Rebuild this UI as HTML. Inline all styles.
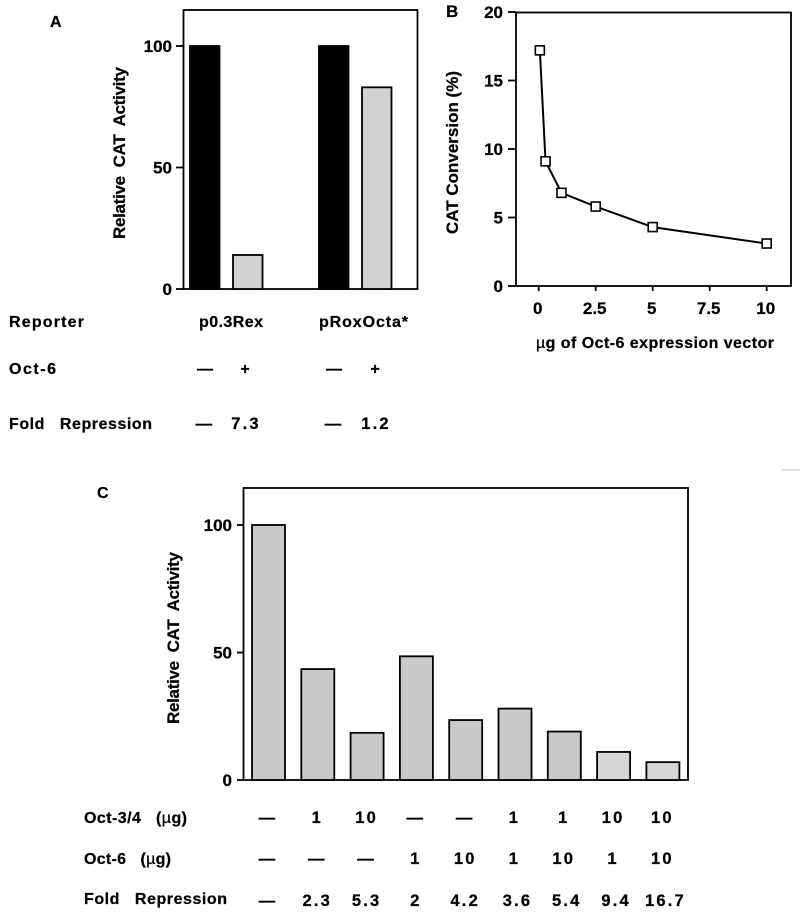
<!DOCTYPE html>
<html lang="en">
<head>
<meta charset="utf-8">
<title>Oct-6 repression of CAT activity</title>
<style>
html,body{margin:0;padding:0;background:#fff;}
body{width:800px;height:915px;overflow:hidden;}
svg{display:block;}
text{font-family:"Liberation Sans",sans-serif;font-weight:bold;font-size:16px;fill:#000;stroke:#000;stroke-width:.25px;white-space:pre;}
.wide{letter-spacing:.6px;}
.nums{letter-spacing:2.2px;text-anchor:middle;font-size:16.5px;}
.tick{font-size:17px;text-anchor:end;}
.mid{text-anchor:middle;}
</style>
</head>
<body>
<svg id="fig" xmlns="http://www.w3.org/2000/svg" width="800" height="915" viewBox="0 0 800 915">
  <rect x="0" y="0" width="800" height="915" fill="#fff"/>
  <g id="blurred" style="filter:blur(.35px)">
    <text x="50" y="27" style="font-size:16px">A</text>
    <text x="446" y="17" style="font-size:17px">B</text>
    <text x="97" y="498" style="font-size:16px">C</text>

    <g id="panelA"></g>
    <text transform="translate(125,239) rotate(-90)" textLength="172" lengthAdjust="spacing" style="font-size:17px">Relative  CAT  Activity</text>
    <text x="9" y="327" textLength="75" lengthAdjust="spacing">Reporter</text>
    <text x="199" y="327" textLength="64" lengthAdjust="spacing">p0.3Rex</text>
    <text x="319" y="327" textLength="89" lengthAdjust="spacing">pRoxOcta*</text>
    <text x="9" y="374" textLength="47" lengthAdjust="spacing">Oct-6</text>
    <text x="9" y="429" textLength="143" lengthAdjust="spacing">Fold   Repression</text>
    <g id="panelARows"></g>

    <g id="panelB"></g>
    <text transform="translate(458,234) rotate(-90)" textLength="163" lengthAdjust="spacing" style="font-size:17px">CAT Conversion (%)</text>
    <text x="536" y="348" textLength="238" lengthAdjust="spacing" style="font-size:16px"><tspan style="font-weight:normal">µ</tspan>g of Oct-6 expression vector</text>

    <g id="panelC"></g>
    <text transform="translate(179,724) rotate(-90)" textLength="172" lengthAdjust="spacing" style="font-size:17px">Relative  CAT  Activity</text>
    <text x="84" y="823" textLength="103" lengthAdjust="spacing">Oct-3/4   (<tspan style="font-weight:normal">µ</tspan>g)</text>
    <text x="84" y="864" textLength="87" lengthAdjust="spacing">Oct-6   (<tspan style="font-weight:normal">µ</tspan>g)</text>
    <text x="84" y="904" textLength="143" lengthAdjust="spacing">Fold   Repression</text>
    <g id="panelCRows"></g>

    <line x1="782" y1="470" x2="800" y2="470" stroke="#bbb" stroke-width="1"/>
  </g>
</svg>
<script>
// Panel A data
const aCategories = ['p0.3Rex -', 'p0.3Rex +', 'pRoxOcta* -', 'pRoxOcta* +'];
const aValues = [100, 14, 100, 83];
const aTicks = [0, 50, 100];
const aOct6 = ['—', '+', '—', '+'];
const aFold = ['—', '7.3', '—', '1.2'];

// Panel B data
const bDoses = [0.05, 0.3, 1, 2.5, 5, 10];
const bConversion = [17.2, 9.1, 6.8, 5.8, 4.3, 3.1];
const bYTicks = [0, 5, 10, 15, 20];
const bXTicks = [0, 2.5, 5, 7.5, 10];

// Panel C data
const cCategories = ['s1', 's2', 's3', 's4', 's5', 's6', 's7', 's8', 's9'];
const cValues = [100, 43.5, 18.5, 48.5, 23.5, 28, 19, 11, 7];
const cTicks = [0, 50, 100];
const cOct34 = ['—', '1', '10', '—', '—', '1', '1', '10', '10'];
const cOct6 = ['—', '—', '—', '1', '10', '1', '10', '1', '10'];
const cFold = ['—', '2.3', '5.3', '2', '4.2', '3.6', '5.4', '9.4', '16.7'];

const NS = 'http://www.w3.org/2000/svg';
function node(parent, tag, attrs, txt) {
  const el = document.createElementNS(NS, tag);
  for (const k in attrs) el.setAttribute(k, attrs[k]);
  if (txt !== undefined) el.textContent = txt;
  parent.appendChild(el);
  return el;
}

// Axis functions
const yA = v => 289 - v * 2.43;
const xA = i => 190 + Math.floor(i / 2) * 129 + (i % 2) * 43;
const yB = v => 286 - v * 13.7;
const xB = v => 538.7 + v * 22.8;
const yC = v => 780 - v * 2.55;
const xC = i => 252 + i * 49.3;

// Panel A
const gA = document.getElementById('panelA');
const frameA = node(gA, 'rect', {x: 183.5, y: 10, width: 234, height: 279, fill: 'none', stroke: '#000', 'stroke-width': 1.8});


aValues.forEach((v, i) => {
  const gray = i % 2 === 1;
  const bar = node(gA, 'rect', {x: xA(i), y: yA(v), width: 29.5, height: 289 - yA(v), fill: gray ? '#d2d2d2' : '#000', stroke: '#000', 'stroke-width': 1.8});
  
  
  node(bar, 'title', {}, aCategories[i]);
});
aTicks.forEach(t => {
  const tick = node(gA, 'line', {x1: 176, x2: 184, y1: yA(t), y2: yA(t), stroke: '#000', 'stroke-width': 1.8});
  
  
  const lab = node(gA, 'text', {x: 172, y: yA(t) + 6, class: 'tick'}, String(t));
  
  
});
const rowsA = document.getElementById('panelARows');
aOct6.forEach((s, i) => {
  const cx = [205, 245, 334, 375][i];
  const t = node(rowsA, 'text', {x: cx, y: 374, class: 'mid'}, s);
  
  
});
aFold.forEach((s, i) => {
  const cx = [205, 246, 334, 376][i];
  const t = node(rowsA, 'text', {x: cx, y: 429, class: 'nums'}, s);
  
  
});

// Panel B
const gB = document.getElementById('panelB');
const frameB = node(gB, 'rect', {x: 516, y: 12.5, width: 275, height: 273.5, fill: 'none', stroke: '#000', 'stroke-width': 1.8});


bYTicks.forEach(t => {
  const tick = node(gB, 'line', {x1: 508, x2: 516, y1: yB(t), y2: yB(t), stroke: '#000', 'stroke-width': 1.8});
  
  
  const lab = node(gB, 'text', {x: 503, y: yB(t) + 6, class: 'tick'}, String(t));
  
  
});
bXTicks.forEach(t => {
  const tick = node(gB, 'line', {x1: xB(t), x2: xB(t), y1: 286, y2: 291, stroke: '#000', 'stroke-width': 1.8});
  
  
  const lab = node(gB, 'text', {x: xB(t) - 1, y: 314, class: 'mid', style: 'font-size:17px'}, String(t));
  
  
});
const linePts = bDoses.map((d, i) => xB(d) + ',' + yB(bConversion[i])).join(' ');
const line = node(gB, 'polyline', {points: linePts, fill: 'none', stroke: '#000', 'stroke-width': 2});


bDoses.forEach((d, i) => {
  const m = node(gB, 'rect', {x: xB(d) - 4.5, y: yB(bConversion[i]) - 4.5, width: 9, height: 9, fill: '#fff', stroke: '#000', 'stroke-width': 1.6});
  
  
});

// Panel C
const gC = document.getElementById('panelC');
const frameC = node(gC, 'rect', {x: 243.5, y: 488, width: 444.5, height: 292, fill: 'none', stroke: '#000', 'stroke-width': 1.8});


cValues.forEach((v, i) => {
  const bar = node(gC, 'rect', {x: xC(i), y: yC(v), width: 33, height: 780 - yC(v), fill: i > 6 ? '#d6d6d6' : '#c9c9c9', stroke: '#000', 'stroke-width': 1.8});
  
  
  node(bar, 'title', {}, cCategories[i]);
});
cTicks.forEach(t => {
  const tick = node(gC, 'line', {x1: 237, x2: 244, y1: yC(t), y2: yC(t), stroke: '#000', 'stroke-width': 1.8});
  
  
  const lab = node(gC, 'text', {x: 232, y: yC(t) + 6, class: 'tick'}, String(t));
  
  
});
const rowsC = document.getElementById('panelCRows');
function colC(i) { return xC(i) + 16; }
cOct34.forEach((s, i) => {
  const t = node(rowsC, 'text', {x: colC(i), y: 823, class: 'nums'}, s);
  
  
});
cOct6.forEach((s, i) => {
  const t = node(rowsC, 'text', {x: colC(i), y: 864, class: 'nums'}, s);
  
  
});
cFold.forEach((s, i) => {
  const t = node(rowsC, 'text', {x: colC(i) + (i > 4 ? 3 : 0), y: 906, class: 'nums'}, s);
  
  
});
</script>
</body>
</html>
